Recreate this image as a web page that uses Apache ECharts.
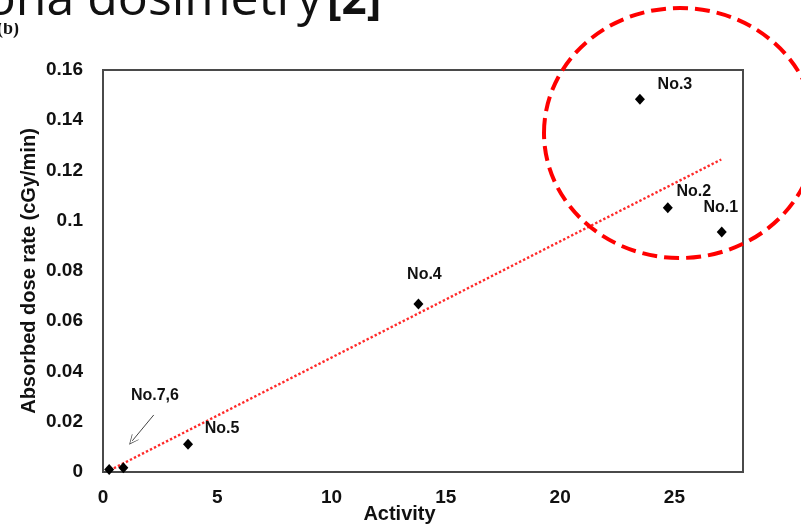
<!DOCTYPE html>
<html>
<head>
<meta charset="utf-8">
<script src="https://cdn.jsdelivr.net/npm/echarts@6/dist/echarts.min.js"></script>
<style>
  html, body { margin: 0; padding: 0; background: #ffffff; }
  #chart { width: 801px; height: 527px; }
</style>
</head>
<body>
<div id="chart"></div>
<script>
// Measured sources: activity vs. absorbed dose rate
const sourceNames = ['No.1', 'No.2', 'No.3', 'No.4', 'No.5', 'No.6', 'No.7'];
const activity    = [27.07, 24.71, 23.49, 13.8, 3.72, 0.89, 0.27];
const doseRate    = [0.0955, 0.1052, 0.1484, 0.0669, 0.0110, 0.0017, 0.0010];

// Linear trendline end points
const trendActivity = [0.3, 27.05];
const trendDose     = [0.0007, 0.1244];

// Annotation for the two overlapping sources near the origin
const groupLabel     = 'No.7,6';
const groupLabelAt   = [2.27, 0.0303];
const groupArrowFrom = [2.22, 0.0227];
const groupArrowTo   = [1.28, 0.0124];

// Axis ranges
const xRange = { min: 0, max: 28, interval: 5 };
const yRange = { min: 0, max: 0.16, interval: 0.02 };

// Per-label placement next to its marker (pixels)
const labelOffsets = {
  'No.1': [-1, -24],
  'No.2': [26, -16],
  'No.3': [35, -15],
  'No.4': [6, -29],
  'No.5': [34, -16]
};

const FONT = '"Liberation Sans", Arial, sans-serif';
const INK = '#111111';
const FRAME = '#4a4a4a';

const labelStyle = {
  color: INK, fontFamily: FONT, fontWeight: 'bold', fontSize: 16
};

const points = sourceNames.map((name, i) => {
  const off = labelOffsets[name];
  return {
    name: name,
    value: [activity[i], doseRate[i]],
    label: off ? Object.assign({ show: true, offset: off }, labelStyle) : { show: false }
  };
});

const trendData = trendActivity.map((x, i) => [x, trendDose[i]]);

const chart = echarts.init(document.getElementById('chart'), null, { renderer: 'canvas' });

chart.setOption({
  animation: false,
  backgroundColor: '#ffffff',
  grid: {
    left: 103, right: 58, top: 70, bottom: 55,
    outerBoundsMode: 'none',
    containLabel: false,
    show: true, borderColor: FRAME, borderWidth: 2, backgroundColor: 'transparent'
  },
  xAxis: {
    type: 'value',
    min: xRange.min, max: xRange.max, interval: xRange.interval,
    axisLine: { show: true, lineStyle: { color: FRAME, width: 2 } },
    axisTick: { show: false },
    splitLine: { show: false },
    axisLabel: {
      color: INK, fontFamily: FONT, fontWeight: 'bold', fontSize: 19,
      margin: 16, showMaxLabel: false
    },
    name: 'Activity',
    nameLocation: 'middle',
    nameGap: 32,
    nameMoveOverlap: false,
    nameTextStyle: {
      color: INK, fontFamily: FONT, fontWeight: 'bold', fontSize: 20,
      padding: [0, 47, 0, 0]
    }
  },
  yAxis: {
    type: 'value',
    min: yRange.min, max: yRange.max, interval: yRange.interval,
    axisLine: { show: true, lineStyle: { color: FRAME, width: 2 } },
    axisTick: { show: false },
    splitLine: { show: false },
    axisLabel: {
      color: INK, fontFamily: FONT, fontWeight: 'bold', fontSize: 19, margin: 20
    },
    name: 'Absorbed dose rate (cGy/min)',
    nameLocation: 'middle',
    nameGap: 64,
    nameMoveOverlap: false,
    nameTextStyle: {
      color: INK, fontFamily: FONT, fontWeight: 'bold', fontSize: 20
    }
  },
  series: [
    {
      type: 'line',
      data: trendData,
      showSymbol: false,
      symbol: 'none',
      silent: true,
      z: 2,
      lineStyle: { color: '#ff2a2a', width: 2.4, type: [2.4, 2.1], cap: 'butt' }
    },
    {
      type: 'scatter',
      data: points,
      symbol: 'diamond',
      symbolSize: [10, 11],
      z: 3,
      itemStyle: { color: '#000000', opacity: 1 },
      label: Object.assign({ position: 'inside', formatter: '{b}' }, labelStyle),
      emphasis: { disabled: true },
      markPoint: {
        silent: true,
        symbol: 'circle',
        symbolSize: 0,
        data: [{ coord: groupLabelAt, value: groupLabel }],
        label: Object.assign({ show: true, position: 'inside', formatter: groupLabel }, labelStyle)
      },
      markLine: {
        silent: true,
        symbol: ['none', 'path://M0,0 L5,10 L4.2,10 L0,1.8 L-4.2,10 L-5,10 Z'],
        symbolSize: [9, 10],
        label: { show: false },
        lineStyle: { color: '#444444', width: 1, type: 'solid', opacity: 1 },
        data: [[{ coord: groupArrowFrom }, { coord: groupArrowTo }]]
      }
    }
  ],
  graphic: [
    // slide caption fragment below the title strip
    {
      type: 'text', left: -3, top: 20, z: 10,
      style: { text: '(b)', font: 'bold 18px "Liberation Serif", serif', fill: INK }
    },
    {
      type: 'rect', left: 0, top: 0, z: 11,
      shape: { width: 420, height: 23 },
      style: { fill: '#ffffff' }
    },
    {
      type: 'text', z: 12,
      style: {
        text: 'ona dosimetry', x: 322, y: 1,
        font: '50px "Open Sans", "Noto Sans", sans-serif', fill: '#111111',
        align: 'right', verticalAlign: 'middle'
      }
    },
    {
      type: 'text', z: 12,
      style: {
        text: '[2]', x: 327, y: 1,
        font: 'bold 44px "Open Sans", "Noto Sans", sans-serif', fill: '#111111',
        align: 'left', verticalAlign: 'middle'
      }
    },
    // highlight ellipse around the high-activity sources
    {
      type: 'ellipse', z: 20, silent: true,
      shape: { cx: 680, cy: 133, rx: 136, ry: 125 },
      style: { fill: 'none', stroke: '#ff0000', lineWidth: 4, lineDash: [15, 7] }
    }
  ]
});
</script>
</body>
</html>
